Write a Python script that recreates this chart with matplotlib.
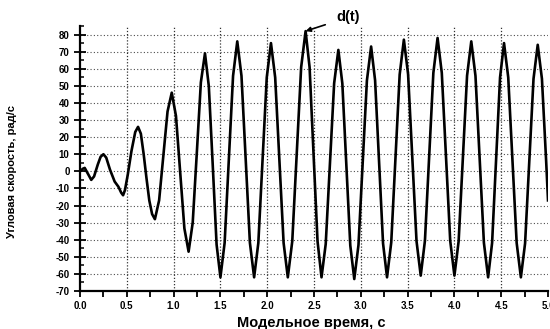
import matplotlib
matplotlib.use('Agg')
import matplotlib.pyplot as plt
from matplotlib.ticker import MultipleLocator

plt.rcParams['font.family'] = ['Liberation Sans', 'DejaVu Sans']

# angular speed d(t)
time = [0.00, 0.03, 0.05, 0.08, 0.12, 0.15, 0.19, 0.22, 0.25, 0.28, 0.32, 0.37,
        0.41, 0.44, 0.46, 0.48, 0.51, 0.55, 0.59, 0.62, 0.65, 0.68, 0.71, 0.74,
        0.77, 0.80,
        0.845, 0.89, 0.935, 0.98,
        1.025, 1.07, 1.115, 1.16,
        1.204, 1.248, 1.291, 1.335,
        1.376, 1.418, 1.459, 1.50,
        1.545, 1.59, 1.635, 1.68,
        1.725, 1.77, 1.815, 1.86,
        1.905, 1.95, 1.995, 2.04,
        2.085, 2.13, 2.175, 2.22,
        2.2675, 2.315, 2.3625, 2.41,
        2.4525, 2.495, 2.5375, 2.58,
        2.625, 2.67, 2.715, 2.76,
        2.8025, 2.845, 2.8875, 2.93,
        2.975, 3.02, 3.065, 3.11,
        3.1525, 3.195, 3.2375, 3.28,
        3.325, 3.37, 3.415, 3.46,
        3.505, 3.55, 3.595, 3.64,
        3.685, 3.73, 3.775, 3.82,
        3.865, 3.91, 3.955, 4.00,
        4.045, 4.09, 4.135, 4.18,
        4.225, 4.27, 4.315, 4.36,
        4.4025, 4.445, 4.4875, 4.53,
        4.575, 4.62, 4.665, 4.71,
        4.755, 4.80, 4.845, 4.89,
        4.935, 4.98, 5.00]
speed = [0, 1.5, 2, -1, -5, -3, 4, 8.5, 10, 8, 1, -6,
         -9, -12.5, -14, -11, -2, 12, 23, 26, 22, 10, -4, -17,
         -25, -28,
         -17, 9, 35, 46,
         32.4, -0.5, -33.4, -47,
         -30, 11, 52, 69,
         49.8, 3.5, -42.8, -62,
         -41.8, 7, 55.8, 76,
         55.8, 7, -41.8, -62,
         -41.9, 6.5, 54.9, 75,
         54.9, 6.5, -41.9, -62,
         -40.9, 10, 60.9, 82,
         60.9, 10, -40.9, -62,
         -42.5, 4.5, 51.5, 71,
         51.4, 4, -43.4, -63,
         -43.1, 5, 53.1, 73,
         53.2, 5.5, -42.2, -62,
         -41.6, 7.5, 56.6, 77,
         56.8, 8, -40.8, -61,
         -40.6, 8.5, 57.6, 78,
         57.6, 8.5, -40.6, -61,
         -40.9, 7.5, 55.9, 76,
         55.8, 7, -41.8, -62,
         -41.9, 6.5, 54.9, 75,
         54.9, 6.5, -41.9, -62,
         -42.1, 6, 54.1, 74,
         54.1, 6, -17]

y_ticks = list(range(-70, 90, 10))
x_ticks = [0.0, 0.5, 1.0, 1.5, 2.0, 2.5, 3.0, 3.5, 4.0, 4.5, 5.0]
peak = (2.41, 82)


def main():
    fig = plt.figure(figsize=(5.5, 3.29), dpi=100)
    ax = fig.add_axes([0.1455, 0.1155, 0.8509, 0.8055])

    # dotted grid
    for y in y_ticks[1:]:
        ax.axhline(y, color='0.3', lw=0.8, ls=(0, (1, 2)), zorder=1)
    for x in x_ticks[1:-1]:
        ax.axvline(x, color='0.2', lw=0.9, ls=(0, (1, 1.5)), zorder=1)

    ax.plot(time, speed, color='black', lw=1.9, zorder=3)

    ax.set_xlim(0, 5.0)
    ax.set_ylim(-70, 85)
    ax.set_xticks(x_ticks)
    ax.set_xticklabels(['%.1f' % x for x in x_ticks], fontsize=7, fontweight='bold')
    ax.set_yticks(y_ticks)
    ax.set_yticklabels([str(y) for y in y_ticks], fontsize=7, fontweight='bold')
    ax.xaxis.set_minor_locator(MultipleLocator(0.25))
    ax.yaxis.set_minor_locator(MultipleLocator(5))
    ax.tick_params(axis='x', which='both', direction='out', length=4, width=1.3)
    ax.tick_params(axis='y', which='major', direction='inout', length=8, width=1.3)
    ax.tick_params(axis='y', which='minor', direction='in', length=3, width=1.1)

    for side in ['top', 'right']:
        ax.spines[side].set_visible(False)
    for side in ['left', 'bottom']:
        ax.spines[side].set_linewidth(1.6)

    ax.set_xlabel('Модельное время, с', fontsize=10.5, fontweight='bold')
    ax.xaxis.set_label_coords(0.494, -0.095)
    ax.set_ylabel('Угловая скорость, рад/с', fontsize=8, fontweight='bold')
    ax.yaxis.set_label_coords(-0.135, 0.45)

    ax.annotate('d(t)', xy=peak, xytext=(2.86, 90), fontsize=10.5, fontweight='bold',
                ha='center', va='center', annotation_clip=False,
                arrowprops=dict(arrowstyle='-|>', color='black', lw=1.2,
                                shrinkA=6, shrinkB=0, mutation_scale=7))

    fig.savefig('out.png', dpi=100)


if __name__ == '__main__':
    main()
